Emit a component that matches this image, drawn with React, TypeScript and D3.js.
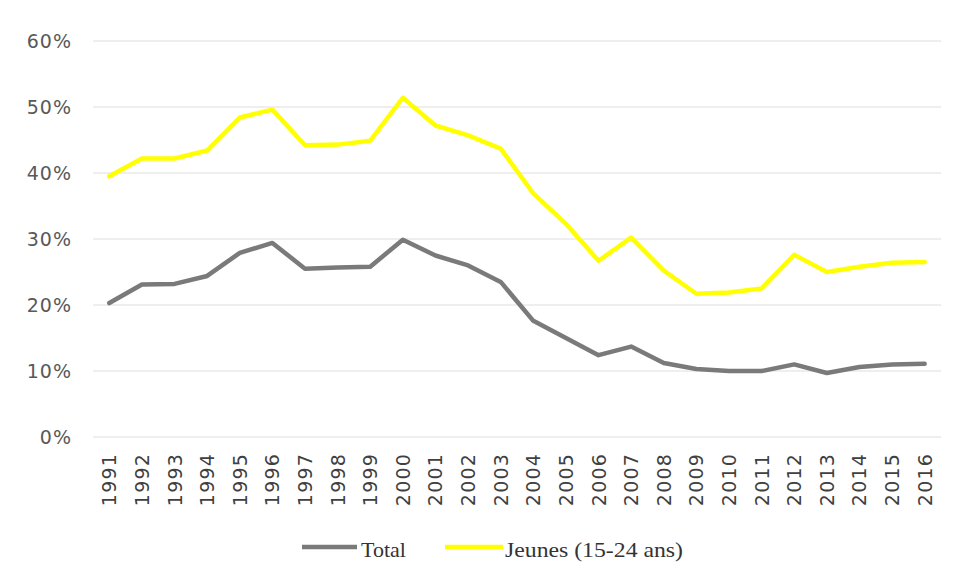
import React from "react";
import * as d3 from "d3";

const years = [
  "1991", "1992", "1993", "1994", "1995", "1996", "1997", "1998", "1999", "2000",
  "2001", "2002", "2003", "2004", "2005", "2006", "2007", "2008", "2009", "2010",
  "2011", "2012", "2013", "2014", "2015", "2016",
];

// Taux en %
const total = [
  20.3, 23.1, 23.2, 24.4, 27.9, 29.4, 25.5, 25.7, 25.8, 29.9,
  27.5, 26.0, 23.5, 17.6, 15.0, 12.4, 13.7, 11.2, 10.3, 10.0,
  10.0, 11.0, 9.7, 10.6, 11.0, 11.1,
];

const jeunes = [
  39.5, 42.2, 42.2, 43.4, 48.4, 49.6, 44.2, 44.3, 44.9, 51.4,
  47.2, 45.7, 43.7, 36.9, 32.3, 26.7, 30.2, 25.2, 21.7, 21.9,
  22.5, 27.6, 25.0, 25.8, 26.4, 26.5,
];

const yTicks = [0, 10, 20, 30, 40, 50, 60];

const seriesNames = ["Total", "Jeunes (15-24 ans)"];
const seriesColors = ["#7a7a7a", "#ffff00"];

const W = 954;
const H = 575;
const left = 93;
const right = 941;
const top = 41;
const bottom = 437;

export default function App() {
  const x = d3.scaleBand<string>().domain(years).range([left, right]).padding(0);
  const y = d3.scaleLinear().domain([0, 60]).range([bottom, top]);
  const cx = (yr: string) => (x(yr) as number) + x.bandwidth() / 2;

  const line = d3
    .line<number>()
    .x((_, i) => cx(years[i]))
    .y((v) => y(v))
    .curve(d3.curveLinear);

  const series = [total, jeunes];

  return (
    <svg
      width={W}
      height={H}
      style={{ position: "absolute", left: 0, top: 0, background: "#fff" }}
    >
      <rect width={W} height={H} fill="#fff" />
      {yTicks.map((t) => (
        <g key={t}>
          <line
            x1={left}
            x2={right}
            y1={y(t)}
            y2={y(t)}
            stroke="#dedede"
            strokeWidth={1}
          />
          <text
            x={72}
            y={y(t)}
            textAnchor="end"
            dominantBaseline="central"
            fontFamily="DejaVu Sans, Verdana, sans-serif"
            fontSize={19}
            letterSpacing={1}
            fill="#595959"
          >
            {t}%
          </text>
        </g>
      ))}

      {years.map((yr) => (
        <text
          key={yr}
          transform={`translate(${cx(yr)},${453}) rotate(-90)`}
          textAnchor="end"
          dominantBaseline="central"
          fontFamily="DejaVu Sans, Verdana, sans-serif"
          fontSize={19}
          letterSpacing={1.2}
          fill="#404040"
        >
          {yr}
        </text>
      ))}

      {series.map((s, i) => (
        <path
          key={seriesNames[i]}
          d={line(s) || ""}
          fill="none"
          stroke={seriesColors[i]}
          strokeWidth={4.5}
          strokeLinejoin="round"
          strokeLinecap="round"
        />
      ))}

      {/* Légende */}
      <g fontFamily="Liberation Serif, Times New Roman, serif" fontSize={22} fill="#333333">
        <line x1={302} x2={357} y1={547} y2={547} stroke={seriesColors[0]} strokeWidth={4.5} />
        <text x={361} y={557}>{seriesNames[0]}</text>
        <line x1={445} x2={503} y1={547} y2={547} stroke={seriesColors[1]} strokeWidth={4.5} />
        <text x={505} y={557} textLength={178} lengthAdjust="spacingAndGlyphs">
          {seriesNames[1]}
        </text>
      </g>
    </svg>
  );
}
